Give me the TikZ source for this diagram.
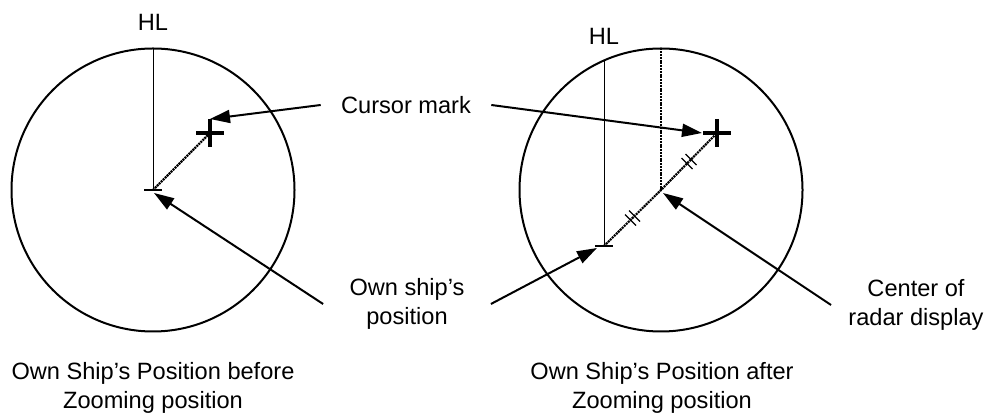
\documentclass[tikz,border=0pt]{standalone}
\usepackage{fontspec}
\setmainfont{Liberation Sans}
\usetikzlibrary{arrows.meta, calc}
\tikzset{
  dial/.style={line width=1pt},
  hlline/.style={line width=0.5pt},
  trackline/.style={line width=1.1pt, dash pattern=on 1pt off 0.4pt},
  pointer/.style={-{Triangle[length=10pt,width=6.5pt]}, line width=1pt},
  shipbar/.style={line width=1.3pt},
  crossbar/.style={line width=2.2pt},
  tickmark/.style={line width=0.6pt},
  labelA/.style={font=\fontsize{11.8}{14.5}\selectfont, align=center, inner sep=10pt},
}

\begin{document}
\begin{tikzpicture}[x=0.5pt, y=-0.5pt]
  \useasboundingbox (0,0) rectangle (994,415);

  % left display: before zooming
  \coordinate (cA) at (153,190);
  \coordinate (shipA) at (153,190);
  \coordinate (curA) at (210,133);
  \coordinate (topA) at (153,48.5);
  \draw[dial] (cA) circle[radius=141.5];
  \draw[hlline] (topA) -- (shipA);
  \draw[trackline] (shipA) -- (curA);
  \draw[shipbar] ($(shipA)+(-9,0)$) -- ($(shipA)+(9,0)$);
  \draw[crossbar] (curA) ++(-14,0) -- ++(28,0) (curA) ++(0,-14) -- ++(0,28);
  \node[labelA, inner sep=0pt] (hlA) at (153,22) {HL};

  % right display: after zooming
  \coordinate (cB) at (661,190);
  \coordinate (shipB) at (604,246);
  \coordinate (curB) at (717,133);
  \coordinate (topB) at (661,48.5);
  \coordinate (edgeB) at (604,60.5);
  \draw[dial] (cB) circle[radius=141.5];
  \draw[hlline] (edgeB) -- (shipB);
  \draw[trackline] (topB) -- (cB);
  \draw[trackline] (shipB) -- (cB) -- (curB);
  \foreach \mx/\my in {630.5/220, 634.5/216, 687/163.5, 691/159.5}
    \draw[tickmark] (\mx-5.5,\my-5.5) -- (\mx+5.5,\my+5.5);
  \draw[shipbar] ($(shipB)+(-9,0)$) -- ($(shipB)+(9,0)$);
  \draw[crossbar] (curB) ++(-14,0) -- ++(28,0) (curB) ++(0,-14) -- ++(0,28);
  \node[labelA, inner sep=0pt] (hlB) at (604,36) {HL};

  % callouts
  \node[labelA] (cursor) at (406,105) {Cursor mark};
  \node[labelA, inner sep=13pt] (own) at (407,304) {Own ship's\\position};
  \node[labelA, inner sep=8.5pt] (centre) at (916,305) {Center of\\radar display};
  \draw[pointer] (cursor.west) -- ($(curA)+(0,-14)$);
  \draw[pointer] (cursor.east) -- ($(curB)+(-15,0)$);
  \draw[pointer] (own.west) -- ($(shipA)+(1,3)$);
  \draw[pointer] (own.east) -- ($(shipB)+(-7,2)$);
  \draw[pointer] (centre.west) -- ($(cB)+(2,3)$);

  % captions
  \node[labelA, inner sep=0pt] (capA) at (153,388)
    {Own Ship's Position before\\Zooming position};
  \node[labelA, inner sep=0pt] (capB) at (662,388)
    {Own Ship's Position after\\Zooming position};
\end{tikzpicture}
\end{document}
